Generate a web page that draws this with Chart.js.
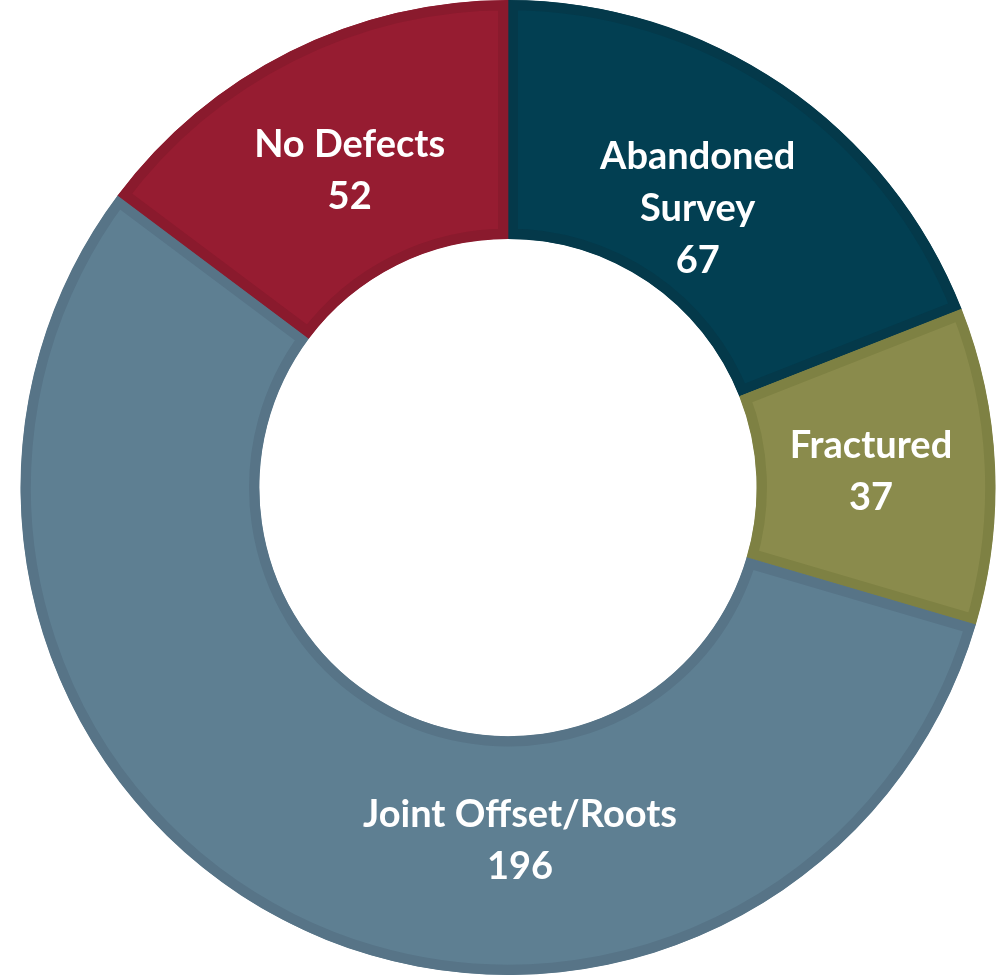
<!DOCTYPE html>
<html>
<head>
<meta charset="utf-8">
<script src="https://cdn.jsdelivr.net/npm/chart.js@4/dist/chart.umd.min.js"></script>
<style>
  html, body { margin: 0; padding: 0; background: #fff; }
  #wrap { width: 1002px; height: 975px; }
</style>
</head>
<body>
<div id="wrap"><canvas id="chart"></canvas></div>
<script>
const categories = ['Abandoned Survey', 'Fractured', 'Joint Offset/Roots', 'No Defects']
const labelLines = [['Abandoned', 'Survey'], ['Fractured'], ['Joint Offset/Roots'], ['No Defects']]
const counts = [67, 37, 196, 52]
const fillColors = ['#023f52', '#8a8b4c', '#5e7f92', '#961c31']
const edgeColors = ['#04394a', '#7e8143', '#577487', '#8a1a2d']

// labels inside each slice; the big slice has its label dragged to the bottom
const sliceLabels = {
  id: 'sliceLabels',
  afterDatasetsDraw (chart, args, opts) {
    const ctx = chart.ctx
    const meta = chart.getDatasetMeta(0)
    ctx.save()
    ctx.fillStyle = '#ffffff'
    ctx.font = 'bold ' + opts.size + 'px Lato'
    ctx.textAlign = 'center'
    ctx.textBaseline = 'middle'
    meta.data.forEach((arc, i) => {
      const p = arc.getProps(['x', 'y', 'startAngle', 'endAngle', 'innerRadius', 'outerRadius'], true)
      let angle = (p.startAngle + p.endAngle) / 2
      if (opts.angles[i] !== undefined) angle = opts.angles[i]
      const r = p.innerRadius + (p.outerRadius - p.innerRadius) * opts.radial[i]
      const cx = p.x + Math.cos(angle) * r
      const cy = p.y + Math.sin(angle) * r
      const lines = labelLines[i].concat([String(counts[i])])
      const top = cy - (lines.length - 1) * opts.lineHeight / 2
      lines.forEach((t, k) => ctx.fillText(t, cx, top + k * opts.lineHeight))
    })
    ctx.restore()
  }
}

new Chart(document.getElementById('chart'), {
  type: 'doughnut',
  data: {
    labels: categories,
    datasets: [{
      data: counts,
      backgroundColor: fillColors,
      borderColor: edgeColors,
      borderWidth: 10,
      borderAlign: 'inner'
    }]
  },
  options: {
    responsive: true,
    maintainAspectRatio: false,
    animation: false,
    cutout: '51%',
    layout: { padding: { left: 14, right: 0, top: 0, bottom: 0 } },
    plugins: {
      legend: { display: false },
      tooltip: { enabled: false },
      sliceLabels: {
        size: 38,
        lineHeight: 52,
        radial: [0.37, 0.48, 0.44, 0.44],
        angles: { 2: Math.PI / 2 - 0.034 }
      }
    }
  },
  plugins: [sliceLabels]
})
</script>
</body>
</html>
